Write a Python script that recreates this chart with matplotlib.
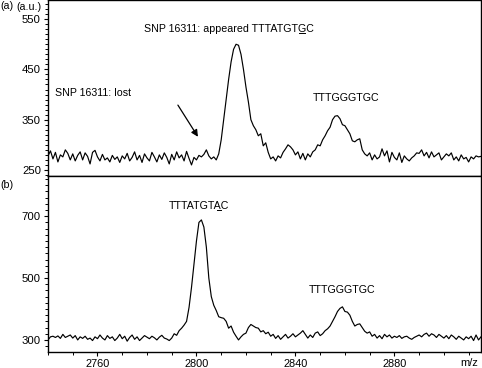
import matplotlib
matplotlib.use('Agg')
import matplotlib.pyplot as plt
from matplotlib.ticker import MultipleLocator, FixedLocator, NullLocator
from matplotlib.lines import Line2D

# ---------------- data ----------------
mz = list(range(2740, 2916))

intensity_a = [
    278, 288, 272, 285, 266, 280, 276, 290, 283, 270,   # 2740-2749
    282, 268, 279, 286, 270, 284, 277, 262, 285, 289,   # 2750-2759
    276, 268, 281, 270, 274, 266, 279, 271, 276, 265,   # 2760-2769
    278, 272, 283, 268, 275, 286, 270, 279, 265, 282,   # 2770-2779
    274, 268, 285, 276, 266, 280, 271, 284, 275, 262,   # 2780-2789
    281, 270, 286, 274, 280, 268, 287, 273, 260, 275,   # 2790-2799
    270, 279, 276, 281, 290, 278, 272, 276, 270, 282,   # 2800-2809
    310, 350, 390, 430, 465, 490, 500, 498, 480, 450,   # 2810-2819
    415, 385, 350, 338, 330, 318, 322, 298, 304, 285,   # 2820-2829
    272, 276, 268, 278, 274, 285, 292, 300, 296, 290,   # 2830-2839
    280, 286, 272, 283, 270, 282, 276, 286, 290, 300,   # 2840-2849
    298, 310, 318, 328, 335, 350, 357, 358, 352, 340,   # 2850-2859
    338, 330, 322, 308, 306, 310, 312, 290, 282, 278,   # 2860-2869
    284, 270, 280, 272, 276, 292, 278, 288, 266, 285,   # 2870-2879
    275, 270, 284, 265, 278, 272, 268, 274, 278, 284,   # 2880-2889
    283, 290, 278, 285, 274, 286, 276, 280, 284, 270,   # 2890-2899
    276, 282, 278, 284, 270, 276, 268, 280, 272, 275,   # 2900-2909
    266, 276, 272, 278, 276, 277,                       # 2910-2915
]

intensity_b = [
    300, 310, 312, 308, 313, 305, 318, 308, 312, 316,   # 2740-2749
    306, 314, 300, 310, 305, 312, 302, 306, 298, 310,   # 2750-2759
    304, 316, 306, 300, 314, 305, 310, 298, 306, 318,   # 2760-2769
    304, 312, 296, 308, 316, 302, 310, 298, 306, 314,   # 2770-2779
    309, 304, 312, 307, 300, 309, 315, 306, 303, 298,   # 2780-2789
    306, 320, 315, 330, 338, 348, 360, 405, 470, 545,   # 2790-2799
    620, 680, 688, 665, 600, 500, 440, 412, 395, 375,   # 2800-2809
    372, 370, 360, 338, 345, 325, 312, 300, 310, 318,   # 2810-2819
    322, 340, 350, 345, 340, 338, 326, 330, 320, 325,   # 2820-2829
    312, 318, 305, 314, 302, 310, 318, 306, 312, 320,   # 2830-2839
    310, 316, 322, 330, 318, 306, 316, 308, 322, 326,   # 2840-2849
    314, 320, 330, 336, 345, 360, 375, 392, 402, 407,   # 2850-2859
    392, 390, 380, 360, 345, 350, 352, 340, 328, 322,   # 2860-2869
    326, 312, 318, 306, 314, 304, 318, 310, 316, 306,   # 2870-2879
    312, 308, 314, 305, 310, 312, 306, 302, 308, 312,   # 2880-2889
    316, 310, 318, 322, 312, 320, 316, 308, 318, 312,   # 2890-2899
    306, 314, 304, 316, 310, 302, 312, 306, 300, 310,   # 2900-2909
    304, 312, 298, 316, 300, 310,                       # 2910-2915
]

yticks_a = [250, 350, 450, 550]
yticks_b = [300, 500, 700]
xticks = [2760, 2800, 2840, 2880]

# ---------------- figure ----------------
W, H = 482, 368
plt.rcParams['font.family'] = ['Liberation Sans', 'DejaVu Sans']
FS = 7.7
FS_Y = 8.2
FS_X = 7.9
fig = plt.figure(figsize=(W / 100, H / 100), dpi=100)


def fx(px):
    return px / W


def fy(py):
    return 1 - py / H


axA = fig.add_axes([fx(48), fy(176), fx(481) - fx(48), fy(0) - fy(176)])
axB = fig.add_axes([fx(48), fy(352), fx(481) - fx(48), fy(176) - fy(352)])

for ax in (axA, axB):
    for sp in ax.spines.values():
        sp.set_linewidth(1.0)
    ax.set_xlim(2740, 2915)
    ax.tick_params(axis='both', which='major', direction='out', length=2.6,
                   width=0.8, pad=2.5)
    ax.tick_params(axis='y', which='major', labelsize=FS_Y)
    ax.tick_params(axis='x', which='major', labelsize=FS_X)
    ax.tick_params(axis='both', which='minor', direction='out', length=2.0,
                   width=0.7)
    ax.tick_params(right=False, top=False)

axA.plot(mz, intensity_a, color='black', lw=0.85)
axB.plot(mz, intensity_b, color='black', lw=0.85)

axA.set_ylim(238, 588)
axB.set_ylim(261, 830)

axA.yaxis.set_major_locator(FixedLocator(yticks_a))
axA.yaxis.set_minor_locator(MultipleLocator(10))
axA.xaxis.set_major_locator(NullLocator())
axA.xaxis.set_minor_locator(NullLocator())
axA.tick_params(bottom=False, labelbottom=False)

axB.yaxis.set_major_locator(FixedLocator(yticks_b))
axB.yaxis.set_minor_locator(MultipleLocator(20))
axB.xaxis.set_major_locator(FixedLocator(xticks))
axB.xaxis.set_minor_locator(MultipleLocator(10))

# ---------------- annotations ----------------
tA1 = axA.text(2778.7, 524.6, 'SNP 16311: appeared TTTATGTGC', fontsize=FS,
               ha='left', va='baseline')
axA.text(2743.0, 397.4, 'SNP 16311: lost', fontsize=FS, ha='left', va='baseline')
axA.text(2860.5, 387, 'TTTGGGTGC', fontsize=FS, ha='center', va='baseline')
axA.annotate('', xy=(2800.6, 316), xytext=(2792.5, 379),
             arrowprops=dict(arrowstyle='-|>', color='black', lw=0.9,
                             mutation_scale=10, shrinkA=0, shrinkB=0))

tB1 = axB.text(2801.2, 724, 'TTTATGTAC', fontsize=FS, ha='center', va='baseline')
axB.text(2858.9, 451, 'TTTGGGTGC', fontsize=FS, ha='center', va='baseline')

fig.text(fx(0), fy(6), '(a)', fontsize=FS, ha='left', va='center')
fig.text(fx(16), fy(7.5), '(a.u.)', fontsize=FS, ha='left', va='center')
fig.text(fx(0), fy(185.5), '(b)', fontsize=FS, ha='left', va='center')
fig.text(fx(469), fy(363.5), 'm/z', fontsize=FS_X, ha='center', va='center')

# underline a single character of a text
fig.canvas.draw()
renderer = fig.canvas.get_renderer()


def underline(ax, t, idx, ybase):
    s = t.get_text()
    prop = t.get_fontproperties()
    bb = t.get_window_extent(renderer)
    w1, _, _ = renderer.get_text_width_height_descent(s[:idx], prop, ismath=False)
    w2, _, _ = renderer.get_text_width_height_descent(s[:idx + 1], prop, ismath=False)
    x1 = bb.x0 + w1 + 1.0
    x2 = bb.x0 + w2 - 1.0
    yb = ax.transData.transform((2800, ybase))[1] - 1.6
    inv = fig.transFigure.inverted()
    p1 = inv.transform((x1, yb))
    p2 = inv.transform((x2, yb))
    fig.add_artist(Line2D([p1[0], p2[0]], [p1[1], p2[1]], color='black',
                          lw=0.7, transform=fig.transFigure))


underline(axA, tA1, len('SNP 16311: appeared TTTATGT'), 524.6)
underline(axB, tB1, len('TTTATGT'), 724)

fig.savefig('out.png', dpi=100)
